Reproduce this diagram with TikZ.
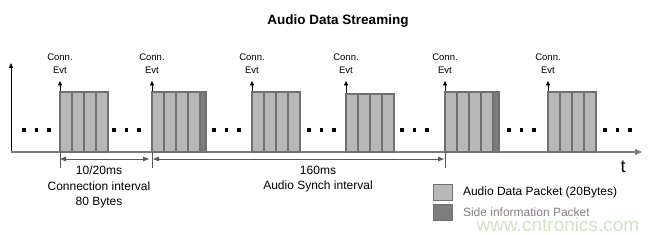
\documentclass[tikz,border=0pt]{standalone}
\usepackage{fontspec}
\setmainfont{Liberation Sans}
\usetikzlibrary{arrows.meta,positioning}
\definecolor{pktfill}{RGB}{184,184,184}
\definecolor{pktline}{RGB}{112,112,112}
\definecolor{sidefill}{RGB}{125,125,125}
\definecolor{axisgray}{RGB}{125,125,125}
\definecolor{wmgreen}{RGB}{200,232,190}
\tikzset{
  cell/.style={draw=pktline,fill=pktfill,line width=1.1pt},
  sidecell/.style={draw=pktline,fill=sidefill,line width=1.1pt},
  evt/.style={-{Triangle[length=4.5pt,width=4pt]},line width=0.7pt},
  axisline/.style={draw=axisgray,line width=1.6pt,-{Triangle[length=7pt,width=6pt]}},
  dimline/.style={draw=axisgray!70!black,line width=1pt,
    {Triangle[length=6pt,width=4.5pt]}-{Triangle[length=6pt,width=4.5pt]}},
  tickline/.style={draw=axisgray!70!black,line width=1pt},
  evtlbl/.style={font=\fontsize{9.5}{13}\selectfont,align=center,inner sep=0pt},
  txt/.style={font=\fontsize{12}{15.5}\selectfont,align=center,inner sep=0pt},
  key/.style={draw=pktline,line width=0.8pt,minimum width=19pt,minimum height=16pt,inner sep=0pt},
}

\begin{document}
\begin{tikzpicture}[x=1pt,y=-1pt]
  \useasboundingbox (0,0) rectangle (661,235);
  \node[font=\bfseries\fontsize{13.5}{16}\selectfont] (title) at (338,21) {Audio Data Streaming};
  % axes
  \coordinate (o) at (11,152);
  \coordinate (ytop) at (11,63);
  \coordinate (tend) at (642,152);
  \draw[-{Triangle[length=5pt,width=4pt]},line width=0.8pt] (o) -- (ytop);
  \draw[axisline] (o) -- (tend);
  \node[font=\fontsize{18}{18}\selectfont] (t) at (623,167) {t};
  % packets with their connection events
  \foreach \n/\x/\y/\s in {1/60/92/0,2/152/92/1,3/252/92/0,4/346/94/0,5/445/92/1,6/548/92/0}{
    \coordinate (e\n) at (\x,152);
    \coordinate (a\n) at (\x,81);
    \draw[evt] (e\n) -- (a\n);
    \foreach \i in {0,...,3}
      \draw[cell] (\x+\i*12,\y) rectangle ++(12,152-\y);
    \ifnum\s=1 \draw[sidecell] (\x+48,\y) rectangle ++(6,152-\y); \fi
    \node[evtlbl,above=7pt of a\n] (c\n) {Conn.\\Evt};
  }
  % gaps
  \foreach \x in {22,112,212,307,400,507,603}
    \foreach \k in {0,1,2}
      \fill (\x+\k*12.5,128.5) rectangle ++(3.5,3.5);
  % intervals
  \foreach \n in {1,2,5} \draw[tickline] (e\n) -- ++(0,16);
  \coordinate (d1) at (60,159);
  \coordinate (d2) at (149,159);
  \coordinate (d3) at (153,159);
  \coordinate (d4) at (444,159);
  \draw[dimline] (d1) -- (d2);
  \draw[dimline] (d3) -- (d4);
  \node[txt] (conn) at (99,187) {10/20ms\\Connection interval\\80 Bytes};
  \node[txt] (synch) at (318,179) {160ms\\Audio Synch interval};
  % legend
  \node[key,fill=pktfill,anchor=north west] (k1) at (433,184) {};
  \node[key,fill=sidefill,anchor=north west] (k2) at (433,204) {};
  \node[txt,right=10pt of k1] (l1) {Audio Data Packet (20Bytes)};
  \node[txt,right=10pt of k2,text=gray] (l2) {Side information Packet};
  \node[font=\fontsize{19}{19}\selectfont,text=wmgreen] (wm) at (558,225) {www.cntronics.com};
\end{tikzpicture}
\end{document}
